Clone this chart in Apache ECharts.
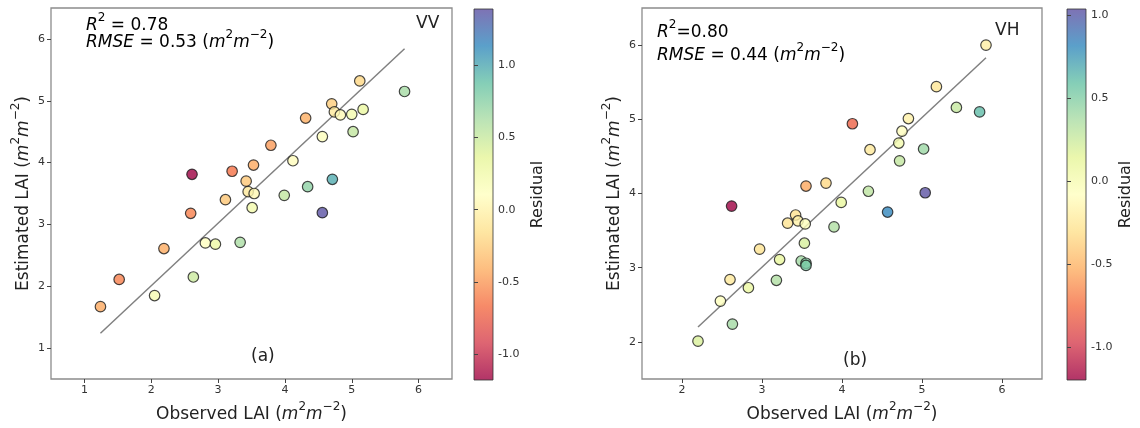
<!DOCTYPE html>
<html>
<head>
<meta charset="utf-8">
<script src="https://cdn.jsdelivr.net/npm/echarts@6/dist/echarts.min.js"></script>
<style>html,body{margin:0;padding:0;background:#fff}#c{width:1140px;height:428px}</style>
</head>
<body>
<div id="c"></div>
<script>
// ---- data ----
var obsVV = [5.12,5.79,4.70,4.74,4.83,5.00,5.17,4.31,4.56,5.02,3.79,4.12,3.53,3.21,2.61,4.71,3.42,3.45,3.54,3.99,4.34,3.11,3.51,4.56,2.59,2.19,2.81,2.96,3.33,1.52,2.63,2.05,1.24];
var estVV = [5.32,5.15,4.95,4.82,4.77,4.78,4.86,4.72,4.42,4.50,4.28,4.03,3.96,3.86,3.81,3.73,3.70,3.53,3.50,3.47,3.61,3.40,3.27,3.19,3.18,2.61,2.70,2.68,2.71,2.11,2.15,1.85,1.67];
var obsVH = [5.80,5.18,5.43,5.72,4.13,4.83,4.75,4.71,5.02,4.35,4.72,3.55,3.80,4.33,5.04,2.62,4.57,3.99,3.42,3.45,3.32,3.54,3.90,3.53,2.97,3.22,3.49,3.55,3.55,2.60,2.83,3.18,2.48,2.63,2.20];
var estVH = [6.00,5.44,5.16,5.10,4.94,5.01,4.84,4.68,4.60,4.59,4.44,4.10,4.14,4.03,4.01,3.83,3.75,3.88,3.71,3.63,3.60,3.59,3.55,3.33,3.25,3.11,3.09,3.06,3.03,2.84,2.73,2.83,2.55,2.24,2.01];
var fitVV = {x:[1.24,5.79], y:[1.24,5.84]};
var fitVH = {x:[2.20,5.80], y:[2.20,5.83]};
var cbarRangeVV = [-1.18, 1.39];
var cbarRangeVH = [-1.20, 1.04];
var xTicksVV = [1,2,3,4,5,6];
var yTicksVV = [1,2,3,4,5,6];
var xTicksVH = [2,3,4,5,6];
var yTicksVH = [2,3,4,5,6];
var cbarTicks = [-1.0,-0.5,0.0,0.5,1.0];

var spectral = ['#9e0142','#d53e4f','#f46d43','#fdae61','#fee08b','#ffffbf','#e6f598','#abdda4','#66c2a5','#3288bd','#5e4fa2'];
var ALPHA = 0.8;
function rgba(hex,a){var n=parseInt(hex.slice(1),16);return 'rgba('+(n>>16&255)+','+(n>>8&255)+','+(n&255)+','+a+')';}
function gradient(){
  return new echarts.graphic.LinearGradient(0,1,0,0, spectral.map(function(c,i){return {offset:i/(spectral.length-1), color:rgba(c,ALPHA)};}));
}
function pts(o,e){return o.map(function(x,i){return [x,e[i],x-e[i]];});}
function line(f){return f.x.map(function(x,i){return [x,f.y[i]];});}

var FONT = 'DejaVu Sans';
var rich = {
  n:{fontFamily:FONT,fontSize:17,color:'#222',lineHeight:22,verticalAlign:'bottom'},
  i:{fontFamily:FONT,fontSize:17,fontStyle:'italic',color:'#222',lineHeight:22,verticalAlign:'bottom'},
  s:{fontFamily:FONT,fontSize:12,color:'#222',lineHeight:22,verticalAlign:'top',padding:[0,0,0,0]}
};
var richB = JSON.parse(JSON.stringify(rich));
var unit = '{n|(}{i|m}{s|2}{i|m}{s|−2}{n|)}';
var labOpts = {fontFamily:FONT,fontSize:11,color:'#333'};

function mkX(idx,min,max,ticks){
  return {gridIndex:idx,type:'value',min:min,max:max,
    axisLine:{show:false},splitLine:{show:false},
    axisTick:{show:true,length:4,lineStyle:{color:'#444'},customValues:ticks},
    axisLabel:Object.assign({customValues:ticks,margin:6},labOpts),
    name:'{n|Observed LAI }'+unit,nameLocation:'middle',nameGap:22,
    nameTextStyle:{rich:rich}};
}
function mkY(idx,min,max,ticks){
  return {gridIndex:idx,type:'value',min:min,max:max,
    axisLine:{show:false},splitLine:{show:false},
    axisTick:{show:true,length:4,lineStyle:{color:'#444'},customValues:ticks},
    axisLabel:Object.assign({customValues:ticks,margin:6},labOpts),
    name:'{n|Estimated LAI }'+unit,nameLocation:'middle',nameGap:19,nameRotate:90,
    nameTextStyle:{rich:richB}};
}
function cbX(idx){return {gridIndex:idx,type:'value',min:0,max:1,show:false};}
function cbY(idx,r,gap){
  return {gridIndex:idx,type:'value',min:r[0],max:r[1],position:'right',
    axisLine:{show:false},splitLine:{show:false},
    axisTick:{show:true,length:4,lineStyle:{color:'#444'},customValues:cbarTicks},
    axisLabel:Object.assign({customValues:cbarTicks,margin:5,formatter:function(v){return v.toFixed(1);}},labOpts),
    name:'Residual',nameLocation:'middle',nameRotate:90,nameGap:gap,
    nameTextStyle:{fontFamily:FONT,fontSize:16,color:'#222'}};
}
var gridStyle = {show:true,borderColor:'#8c8c8c',borderWidth:1.3,backgroundColor:'transparent'};
var cbStyle = {show:true,borderColor:'#333',borderWidth:0.8};

var chart = echarts.init(document.getElementById('c'),null,{renderer:'canvas'});
chart.setOption({
  animation:false,
  backgroundColor:'#fff',
  grid:[
    Object.assign({left:51,top:8,width:401,height:372},gridStyle),
    Object.assign({left:642,top:8,width:400,height:372},gridStyle),
    Object.assign({left:474,top:9,width:19,height:371,backgroundColor:gradient()},cbStyle),
    Object.assign({left:1067,top:9,width:19,height:371,backgroundColor:gradient()},cbStyle)
  ],
  xAxis:[mkX(0,0.5,6.5,xTicksVV),mkX(1,1.5,6.5,xTicksVH),cbX(2),cbX(3)],
  yAxis:[mkY(0,0.5,6.5,yTicksVV),mkY(1,1.5,6.5,yTicksVH),cbY(2,cbarRangeVV,37),cbY(3,cbarRangeVH,32)],
  visualMap:[
    {type:'continuous',show:false,seriesIndex:1,dimension:2,min:cbarRangeVV[0],max:cbarRangeVV[1],inRange:{color:spectral}},
    {type:'continuous',show:false,seriesIndex:3,dimension:2,min:cbarRangeVH[0],max:cbarRangeVH[1],inRange:{color:spectral}}
  ],
  series:[
    {type:'line',xAxisIndex:0,yAxisIndex:0,data:line(fitVV),symbol:'none',lineStyle:{color:'#808080',width:1.5},z:1},
    {type:'scatter',xAxisIndex:0,yAxisIndex:0,data:pts(obsVV,estVV),symbolSize:10.5,
      itemStyle:{opacity:ALPHA,borderColor:'#1a1a1a',borderWidth:1.2},z:2},
    {type:'line',xAxisIndex:1,yAxisIndex:1,data:line(fitVH),symbol:'none',lineStyle:{color:'#808080',width:1.5},z:1},
    {type:'scatter',xAxisIndex:1,yAxisIndex:1,data:pts(obsVH,estVH),symbolSize:10.5,
      itemStyle:{opacity:ALPHA,borderColor:'#1a1a1a',borderWidth:1.2},z:2}
  ],
  graphic:[
    {type:'text',left:86,top:12,style:{text:'{i|R}{s|2}{n| = 0.78}',rich:rich}},
    {type:'text',left:86,top:29,style:{text:'{i|RMSE}{n| = 0.53 }'+unit,rich:rich}},
    {type:'text',left:416,top:15,style:{text:'VV',font:'17px DejaVu Sans',fill:'#222'}},
    {type:'text',left:251,top:348,style:{text:'(a)',font:'17px DejaVu Sans',fill:'#222'}},
    {type:'text',left:657,top:19,style:{text:'{i|R}{s|2}{n|=0.80}',rich:rich}},
    {type:'text',left:657,top:42,style:{text:'{i|RMSE}{n| = 0.44 }'+unit,rich:rich}},
    {type:'text',left:995,top:22,style:{text:'VH',font:'17px DejaVu Sans',fill:'#222'}},
    {type:'text',left:843,top:352,style:{text:'(b)',font:'17px DejaVu Sans',fill:'#222'}}
  ]
});
</script>
</body>
</html>
